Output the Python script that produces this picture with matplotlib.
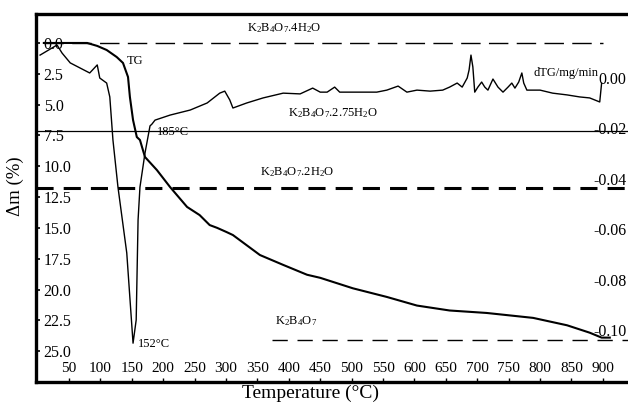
import matplotlib
matplotlib.use("Agg")
import matplotlib.pyplot as plt

plt.rcParams['font.family'] = ['Liberation Serif', 'DejaVu Serif']
plt.rcParams['mathtext.fontset'] = 'custom'
plt.rcParams['mathtext.rm'] = 'Liberation Serif'
plt.rcParams['mathtext.it'] = 'Liberation Serif:italic'

# TG curve: temperature (C) vs mass loss (%)
tg_temp = [10, 28, 79, 95, 110, 126, 136, 144, 147, 152, 158, 163, 171, 190, 211,
           238, 258, 274, 286, 301, 311, 354, 391, 429, 450, 502, 556, 604, 656,
           715, 789, 843, 879, 898, 911]
tg_loss = [0.0, 0.0, 0.0, 0.24, 0.57, 1.14, 1.62, 2.76, 4.38, 6.25, 7.63, 7.87, 9.25,
           10.31, 11.69, 13.3, 13.96, 14.77, 15.0, 15.34, 15.58, 17.2, 18.0, 18.8,
           19.05, 19.9, 20.6, 21.3, 21.7, 21.9, 22.3, 22.9, 23.5, 23.9, 23.9]

# dTG curve: temperature (C) vs dTG (mg/min)
dtg_temp = [4, 31, 39, 52, 83, 95, 99, 110, 115, 120, 128, 142, 152, 157, 160, 163,
            171, 179, 182, 187, 211, 243, 270, 290, 298, 306, 311, 333, 359, 391,
            418, 438, 450, 461, 473, 481, 508, 540, 556, 574, 588, 604, 625, 645,
            656, 668, 676, 684, 687, 690, 693, 696, 701, 707, 712, 717, 725, 733,
            741, 749, 755, 760, 766, 771, 774, 779, 800, 820, 843, 863, 879, 895, 898]
dtg_val = [0.0091, 0.0131, 0.0099, 0.0060, 0.0020, 0.0052, 0.0, -0.0020, -0.0075,
           -0.0246, -0.0433, -0.0694, -0.1052, -0.0960, -0.0563, -0.0433, -0.0298,
           -0.0190, -0.0183, -0.0167, -0.0147, -0.0127, -0.0099, -0.0060, -0.0052,
           -0.0087, -0.0119, -0.0099, -0.0079, -0.0060, -0.0063, -0.0040, -0.0056,
           -0.0056, -0.0036, -0.0056, -0.0056, -0.0056, -0.0048, -0.0032, -0.0056,
           -0.0048, -0.0052, -0.0048, -0.0036, -0.0020, -0.0036, 0.0, 0.0032, 0.0091,
           0.0044, -0.0056, -0.0036, -0.0016, -0.0036, -0.0048, -0.0004, -0.0036,
           -0.0056, -0.0036, -0.0020, -0.0040, -0.0016, 0.0020, -0.0020, -0.0048,
           -0.0048, -0.0060, -0.0067, -0.0075, -0.0079, -0.0095, -0.0020]

# theoretical mass-loss levels (%)
lvl_4h2o = 0.0
lvl_275h2o = 7.1
lvl_2h2o = 11.8
lvl_anhyd = 24.1

x_ticks = list(range(50, 901, 50))
left_ticks = [0.0, 2.5, 5.0, 7.5, 10.0, 12.5, 15.0, 17.5, 20.0, 22.5, 25.0]
right_ticks = [0.00, -0.02, -0.04, -0.06, -0.08, -0.10]

fig = plt.figure(figsize=(6.28, 4.05), dpi=100)
ax1 = fig.add_axes([36 / 628, 1 - 382 / 405, 1 - 36 / 628, 368 / 405])
ax2 = ax1.twinx()

ax1.set_xlim(-2.5, 940)
ax1.set_ylim(27.5, -2.35)
ax2.set_ylim(-0.1206, 0.0254)

# reference levels
ax1.hlines(lvl_4h2o, 10, 900, colors='black', linestyles=(0, (14, 6)), linewidth=1.0)
ax1.axhline(lvl_275h2o, color='black', linewidth=0.9)
ax1.axhline(lvl_2h2o, color='black', linestyle=(0, (5.6, 3.3)), linewidth=2.2)
ax1.hlines(lvl_anhyd, 373, 940, colors='black', linestyles=(0, (11, 7)), linewidth=1.0)

ax1.plot(tg_temp, tg_loss, color='black', linewidth=1.5)
ax2.plot(dtg_temp, dtg_val, color='black', linewidth=1.0)

for sp in ['left', 'top', 'bottom']:
    ax1.spines[sp].set_linewidth(2.4)
ax1.spines['right'].set_visible(False)
ax2.spines['right'].set_visible(False)
for sp in ['left', 'top', 'bottom']:
    ax2.spines[sp].set_visible(False)

ax1.set_xticks(x_ticks)
ax1.set_xticklabels([str(t) for t in x_ticks])
ax1.tick_params(axis='x', direction='in', length=3, width=1.0, pad=-7.5, labelsize=11)
for lbl in ax1.get_xticklabels():
    lbl.set_verticalalignment('baseline')

ax1.set_yticks(left_ticks)
ax1.set_yticklabels(['%.1f' % v for v in left_ticks])
ax1.tick_params(axis='y', direction='in', length=3, width=1.2, pad=-5.5, labelsize=11.5)
for lbl in ax1.get_yticklabels():
    lbl.set_horizontalalignment('left')

ax2.set_yticks(right_ticks)
ax2.set_yticklabels(['%.2f' % v for v in right_ticks])
ax2.tick_params(axis='y', direction='in', length=0, pad=-1, labelsize=11.5)
for lbl in ax2.get_yticklabels():
    lbl.set_horizontalalignment('right')

fig.text(311 / 628, 1 - 393 / 405, 'Temperature (\u00b0C)', ha='center', va='center', fontsize=14)
fig.text(15 / 628, 1 - 186 / 405, '\u0394m (%)', ha='center', va='center', rotation=90, fontsize=13.5)

fs = 9
ax1.text(333, -1.2, r'$\mathrm{K_2B_4O_7.4H_2O}$', ha='left', va='center', fontsize=fs)
ax1.text(142, 1.5, 'TG', ha='left', va='center', fontsize=fs)
ax1.text(399, 5.7, r'$\mathrm{K_2B_4O_7.2.75H_2O}$', ha='left', va='center', fontsize=fs)
ax1.text(190, 7.2, '185\u00b0C', ha='left', va='center', fontsize=fs)
ax1.text(354, 10.5, r'$\mathrm{K_2B_4O_7.2H_2O}$', ha='left', va='center', fontsize=fs)
ax1.text(160, 24.4, '152\u00b0C', ha='left', va='center', fontsize=fs)
ax1.text(378, 22.6, r'$\mathrm{K_2B_4O_7}$', ha='left', va='center', fontsize=fs)
ax1.text(789, 2.4, 'dTG/mg/min', ha='left', va='center', fontsize=fs)

fig.savefig('out.png', dpi=100)
